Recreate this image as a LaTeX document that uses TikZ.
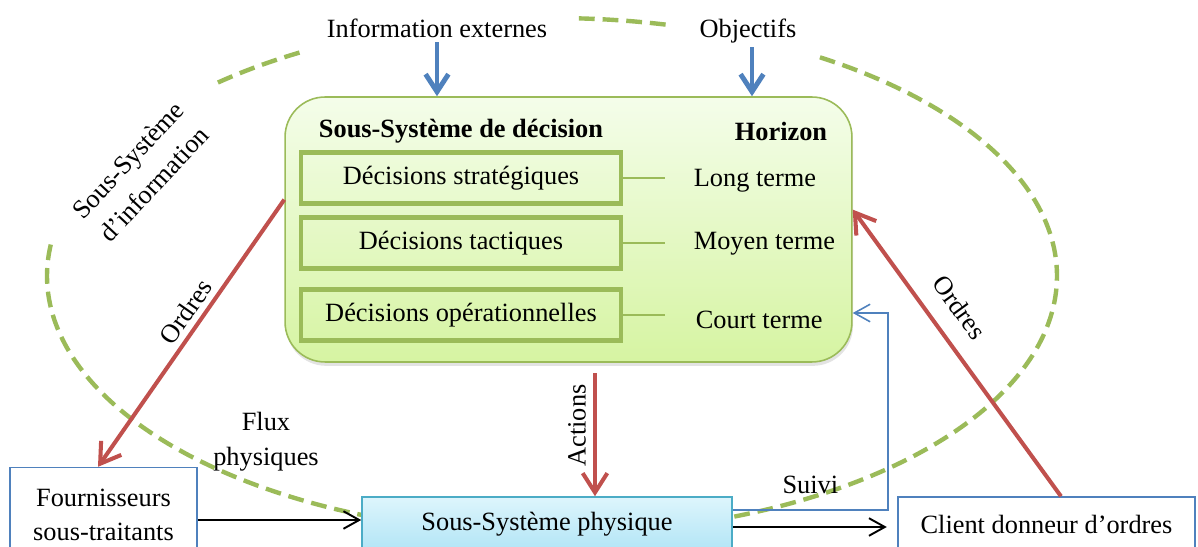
\documentclass[tikz,border=0pt]{standalone}
\usepackage{fontspec}
\setmainfont{Liberation Serif}
\usetikzlibrary{arrows.meta,shadows,calc}
\definecolor{ogreen}{HTML}{9BBB59}
\definecolor{ored}{HTML}{C0504D}
\definecolor{oblue}{HTML}{4F81BD}
\definecolor{ocyan}{HTML}{4BACC6}
\definecolor{gtop}{HTML}{F4FDEA}
\definecolor{gbot}{HTML}{D6F4A2}
\definecolor{ctop}{HTML}{DDF5FC}
\definecolor{cbot}{HTML}{B2E5F6}
\begin{document}
\begin{tikzpicture}[x=0.02cm,y=-0.02cm,
  lbl/.style={font=\fontsize{15}{19}\selectfont, inner sep=2pt},
  bold/.style={font=\fontsize{15}{19}\selectfont\bfseries, inner sep=2pt},
  mainbox/.style={draw=ogreen, line width=0.9pt, rounded corners=0.8cm,
    top color=gtop, bottom color=gbot,
    drop shadow={opacity=0.22, shadow xshift=0.6pt, shadow yshift=-2.2pt},
    minimum width=11.34cm, minimum height=5.3cm},
  decbox/.style={lbl, draw=ogreen, line width=2.3pt, text height=1.9ex, text depth=0.2ex,
    minimum width=6.4cm, minimum height=1.02cm},
  tick/.style={draw=ogreen, line width=0.8pt, shorten >=14pt},
  physbox/.style={lbl, draw=ocyan, line width=0.9pt, top color=ctop, bottom color=cbot,
    minimum width=7.4cm, minimum height=1.08cm},
  extbox/.style={lbl, draw=oblue, line width=0.8pt, fill=white, align=center},
  infoarrow/.style={draw=oblue, line width=2.8pt, -{Straight Barb[length=10pt,width=13pt]}},
  orderarrow/.style={draw=ored, line width=2.3pt, -{Straight Barb[length=11pt,width=14pt]}},
  flowarrow/.style={draw=black, line width=1.1pt, -{Straight Barb[length=9pt,width=10pt]}},
  suiviarrow/.style={draw=oblue, line width=0.9pt, -{Straight Barb[length=9pt,width=10pt]}},
  infosys/.style={draw=ogreen, line width=2.5pt, dash pattern=on 9pt off 4.5pt},
]
\useasboundingbox (0,0) rectangle (1198,547);

% information sub-system: dashed ellipse, broken where labels sit
\draw[infosys] plot[domain=77:87.5, samples=20, smooth] ({552+505*cos(\x)},{276-258*sin(\x)});
\draw[infosys] plot[domain=120:132, samples=20, smooth] ({552+505*cos(\x)},{276-258*sin(\x)});
\draw[infosys] plot[domain=173:418.7, samples=160, smooth] ({552+505*cos(\x)},{276-258*sin(\x)});

% external inputs
\node[lbl, anchor=base] (info) at (437,38) {Information externes};
\node[lbl, anchor=base] (obj) at (748,38) {Objectifs};

% decision sub-system
\node[mainbox] (main) at (568.5,229.5) {};
\node[bold] (title) at (461,131) {Sous-Système de décision};
\node[bold] (horizon) at (781,131) {Horizon};

\node[decbox] (strat) at (461,178) {Décisions stratégiques};
\node[decbox] (tact) at (461,243) {Décisions tactiques};
\node[decbox] (oper) at (461,315) {Décisions opérationnelles};

\node[lbl, anchor=west] (long) at (690,181) {Long terme};
\node[lbl, anchor=west] (moyen) at (690,244) {Moyen terme};
\node[lbl, anchor=west] (court) at (692,320) {Court terme};

\draw[tick] (strat.east) -- (strat.east -| long.west);
\draw[tick] (tact.east) -- (tact.east -| moyen.west);
\draw[tick] (oper.east) -- (oper.east -| long.west);

% physical sub-system and its neighbours
\node[physbox] (phys) at (547,524) {Sous-Système physique};
\node[extbox, minimum width=3.74cm, minimum height=1.9cm] (four) at (103.5,515) {Fournisseurs\\sous-traitants};
\node[extbox, minimum width=5.94cm, minimum height=1.08cm] (client) at (1046.5,524) {Client donneur d’ordres};

% rotated sub-system label and flow label
\node[lbl, rotate=47, align=center, font=\fontsize{15}{20}\selectfont] (ssi) at (141,172) {Sous-Système\\d’information};
\node[lbl, align=center, font=\fontsize{15}{20}\selectfont] (flux) at (266,442) {Flux\\physiques};

% connectors
\draw[infoarrow] (info.south) -- (info.south |- main.north);
\draw[infoarrow] ([xshift=0.08cm]obj.south) -- ([xshift=0.08cm]obj.south |- main.north);

\draw[orderarrow] (main.174.5) -- ([xshift=-0.11cm]four.north)
  node[lbl, pos=0.455, sloped, above=1pt] {Ordres};
\draw[orderarrow] ([xshift=0.29cm]client.north) -- (main.4.5)
  node[lbl, pos=0.6, sloped, above=8pt] {Ordres};
\draw[orderarrow, shorten <=6pt] ([xshift=0.53cm]main.south) -- ([xshift=0.53cm]main.south |- phys.north)
  node[lbl, pos=0.47, rotate=90, anchor=south, inner sep=4pt] {Actions};

\coordinate (sv) at (888,313);
\draw[suiviarrow] ([yshift=0.28cm]phys.east) -| node[lbl, pos=0.25, above=7pt] {Suivi} (sv) -- (sv -| main.east);

\draw[flowarrow] ([yshift=-0.1cm]four.east) -- ([yshift=-0.1cm]four.east -| phys.west);
\draw[flowarrow, shorten >=6pt] ([yshift=-0.06cm]phys.east) -- ([yshift=-0.06cm]phys.east -| client.west);
\end{tikzpicture}
\end{document}
